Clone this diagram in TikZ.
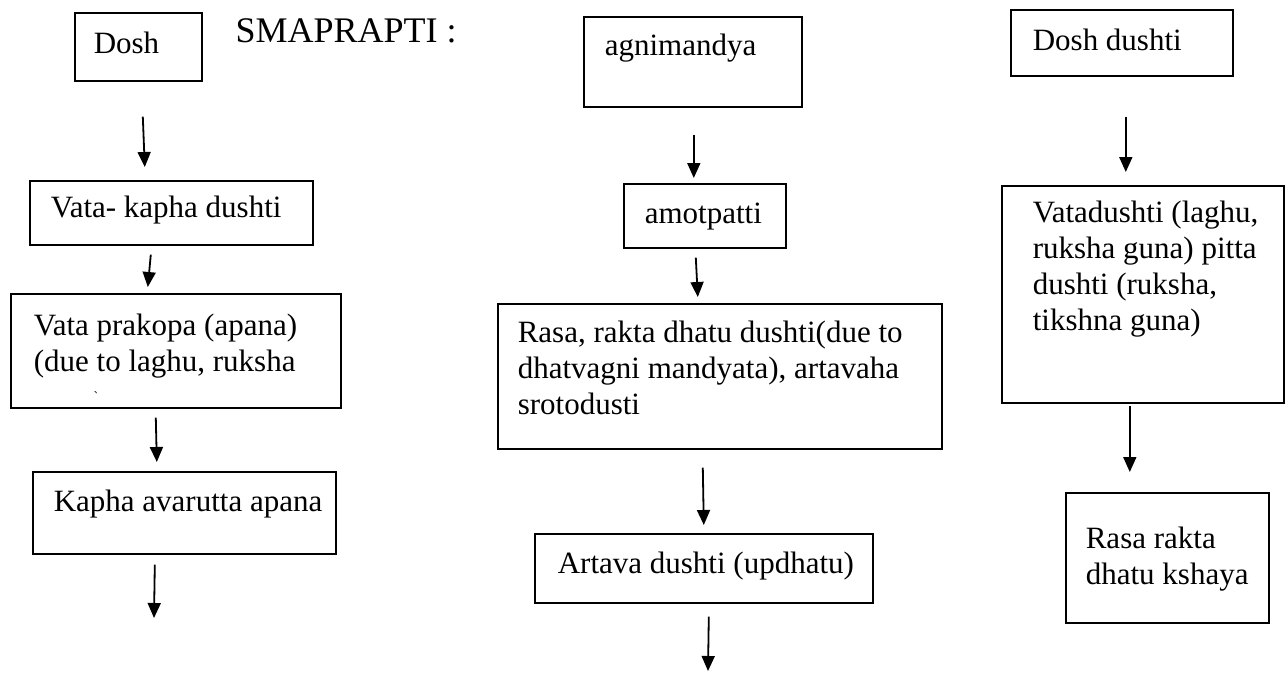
\documentclass[tikz,border=0pt]{standalone}
\usepackage{fontspec}
\setmainfont{Liberation Serif}
\usetikzlibrary{arrows.meta}
\newcommand{\bodyfont}{\fontsize{31}{36}\selectfont}
\newcommand{\flowtext}[5]{\parbox[c][#2][t]{#1}{\raggedright\leftskip=#3\relax\rule{0pt}{#4}#5}}
\tikzset{
	stepbox/.style = {draw, line width = 1.6pt, inner sep = 0pt, font = \bodyfont},
	arr/.style = {-{Triangle[length = 15pt, width = 13pt]}, line width = 1.8pt}
}
\begin{document}
\begin{tikzpicture} [x = 1pt, y = -1pt]
	\useasboundingbox (0,0) rectangle (1286,673);
	\node [stepbox, anchor = north west] (dosh) at (74,12) {\flowtext{127pt}{68pt}{19pt}{41pt}{Dosh}};
	\node [anchor = base west, font = \fontsize{36}{40}\selectfont] (title) at (232,42) {SMAPRAPTI :};
	\node [stepbox, anchor = north west] (vk) at (29,180) {\flowtext{283pt}{64pt}{21pt}{37pt}{Vata- kapha dushti}};
	\node [stepbox, anchor = north west] (vp) at (10,293) {\flowtext{330pt}{114pt}{23pt}{42pt}{Vata prakopa (apana)\\(due to laghu, ruksha}};
	\node [font = \fontsize{14}{14}\selectfont, inner sep = 0pt] (tick) at (96,397) {\textasciigrave};
	\node [stepbox, anchor = north west] (kap) at (32,471) {\flowtext{303pt}{82pt}{21pt}{40pt}{Kapha avarutta apana}};
	\coordinate (kapend) at (154,618);
	\draw [arr] ([shift = {(4.5,35)}] dosh.south) -- ([shift = {(-26.5,-13)}] vk.north);
	\draw [arr] ([shift = {(-20.5,9)}] vk.south) -- ([shift = {(-28,-6)}] vp.north);
	\draw [arr] ([shift = {(-20,9)}] vp.south) -- ([shift = {(-27.5,-9)}] kap.north);
	\draw [arr] ([shift = {(-29.5,10)}] kap.south) -- (kapend);
	\node [stepbox, anchor = north west] (agni) at (583,16) {\flowtext{218pt}{90pt}{21pt}{39pt}{agnimandya}};
	\node [stepbox, anchor = north west] (amot) at (623,183) {\flowtext{162pt}{64pt}{21pt}{40pt}{amotpatti}};
	\node [stepbox, anchor = north west] (rasa) at (497,303) {\flowtext{444pt}{145pt}{20pt}{39pt}{Rasa, rakta dhatu dushti(due to\\dhatvagni mandyata), artavaha\\srotodusti}};
	\node [stepbox, anchor = north west] (art) at (534,533) {\flowtext{338pt}{69pt}{23pt}{40pt}{Artava dushti (updhatu)}};
	\coordinate (artend) at (708,671);
	\draw [arr] ([shift = {(1,27)}] agni.south) -- ([shift = {(-11,-5)}] amot.north);
	\draw [arr] ([shift = {(-9,9)}] amot.south) -- ([shift = {(-22,-6)}] rasa.north);
	\draw [arr] ([shift = {(-17,18)}] rasa.south) -- ([shift = {(0,-8)}] art.north);
	\draw [arr] ([shift = {(5,13)}] art.south) -- (artend);
	\node [stepbox, anchor = north west] (dd) at (1010,9) {\flowtext{222pt}{66pt}{22pt}{41pt}{Dosh dushti}};
	\node [stepbox, anchor = north west] (vd) at (1001,185) {\flowtext{282pt}{217pt}{31pt}{37pt}{Vatadushti (laghu,\\ruksha guna) pitta\\dushti (ruksha,\\tikshna guna)}};
	\node [stepbox, anchor = north west] (rr) at (1065,492) {\flowtext{203pt}{130pt}{20pt}{56pt}{Rasa rakta\\dhatu kshaya}};
	\draw [arr] ([shift = {(4,40)}] dd.south) -- ([shift = {(-17,-13)}] vd.north);
	\draw [arr] ([shift = {(-13,2)}] vd.south) -- ([shift = {(-37.5,-20)}] rr.north);
\end{tikzpicture}
\end{document}
